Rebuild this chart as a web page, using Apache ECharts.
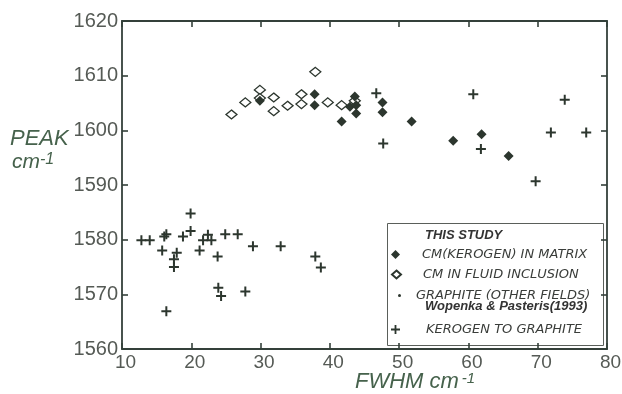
<!DOCTYPE html>
<html>
<head>
<meta charset="utf-8">
<script src="https://cdn.jsdelivr.net/npm/echarts@6/dist/echarts.min.js"></script>
<style>
  html, body { margin: 0; padding: 0; background: #fff; }
  #chart { width: 622px; height: 394px; }
</style>
</head>
<body>
<div id="chart"></div>
<script>
// FWHM (cm-1) , PEAK (cm-1)
const matrixPoints = [
  [29.9, 1605.4], [37.8, 1606.6], [37.8, 1604.6], [41.7, 1601.6], [42.9, 1604.3],
  [43.6, 1606.2], [43.8, 1604.6], [43.8, 1603.1], [47.6, 1605.1], [47.6, 1603.3],
  [51.8, 1601.6], [57.8, 1598.1], [61.9, 1599.3], [65.8, 1595.3]
];
const fluidPoints = [
  [25.8, 1602.9], [27.8, 1605.1], [29.9, 1607.4], [29.9, 1605.9], [31.9, 1606.0],
  [31.9, 1603.5], [33.9, 1604.5], [35.9, 1606.6], [35.9, 1604.8], [37.9, 1610.7],
  [39.7, 1605.1], [41.7, 1604.6], [43.6, 1605.4]
];
const graphitePoints = [];
const kerogenPoints = [
  [46.7, 1606.8], [47.7, 1597.6], [60.7, 1606.6], [61.8, 1596.6], [69.7, 1590.7],
  [71.9, 1599.6], [73.9, 1605.6], [77.0, 1599.6],
  [12.8, 1579.9], [14.0, 1579.9], [16.4, 1581.0], [16.1, 1580.6], [15.8, 1578.0],
  [17.9, 1577.6], [17.5, 1576.4], [17.5, 1575.0], [16.4, 1566.9], [19.9, 1584.8],
  [19.9, 1581.6], [18.8, 1580.6], [21.2, 1578.0], [21.7, 1579.9], [22.4, 1580.9],
  [22.9, 1579.9], [23.8, 1576.9], [23.9, 1571.2], [24.3, 1569.7], [24.9, 1581.0],
  [26.7, 1581.0], [27.8, 1570.5], [28.9, 1578.8], [32.9, 1578.8], [37.9, 1576.9],
  [38.7, 1574.9]
];
const xTicks = { min: 10, max: 80, interval: 10 };
const yTicks = { min: 1560, max: 1620, interval: 10 };

const names = {
  matrix: 'CM(KEROGEN) IN MATRIX',
  fluid: 'CM IN FLUID INCLUSION',
  graphite: 'GRAPHITE (OTHER FIELDS)',
  kerogen: 'KEROGEN TO GRAPHITE'
};

const ink = '#2c362e';
const frame = '#34403a';
const tickText = '#555a55';
const titleText = '#46624c';
const font = 'Liberation Sans, Arial, sans-serif';
const wideFont = 'DejaVu Sans, sans-serif';
const crossPath = 'path://M4,0 L6,0 L6,4 L10,4 L10,6 L6,6 L6,10 L4,10 L4,6 L0,6 L0,4 L4,4 Z';

const chart = echarts.init(document.getElementById('chart'));

function axisCommon(showLabel) {
  return {
    axisLine: { show: true, onZero: false, lineStyle: { color: frame, width: 1.8 } },
    axisTick: { show: true, inside: true, length: 6, lineStyle: { color: frame, width: 1.6 } },
    splitLine: { show: false },
    axisLabel: {
      show: showLabel, color: tickText, fontSize: 20, fontFamily: font, margin: 4,
      formatter: function (v) { return String(v); }
    }
  };
}

function legendItem(name, left, top, w, h, padLeft) {
  return {
    data: [name],
    orient: 'vertical',
    left: left,
    top: top,
    padding: 0,
    itemWidth: w,
    itemHeight: h,
    selectedMode: false,
    textStyle: {
      color: '#3a3d3a',
      fontSize: 13,
      fontStyle: 'italic',
      fontFamily: wideFont,
      padding: [0, 0, 0, padLeft]
    }
  };
}

const bottomX = axisCommon(true);
bottomX.axisLabel.fontSize = 19;
bottomX.axisLabel.padding = [0, 0, 0, 7];

const option = {
  animation: false,
  backgroundColor: '#fff',
  grid: { left: 122, right: 15, top: 21, bottom: 45, outerBoundsMode: 'none' },
  xAxis: [
    Object.assign(bottomX, {
      type: 'value', position: 'bottom',
      min: xTicks.min, max: xTicks.max, interval: xTicks.interval
    }),
    Object.assign(axisCommon(false), {
      type: 'value', position: 'top',
      min: xTicks.min, max: xTicks.max, interval: xTicks.interval
    })
  ],
  yAxis: [
    Object.assign(axisCommon(true), {
      type: 'value', position: 'left',
      min: yTicks.min, max: yTicks.max, interval: yTicks.interval
    }),
    Object.assign(axisCommon(false), {
      type: 'value', position: 'right',
      min: yTicks.min, max: yTicks.max, interval: yTicks.interval
    })
  ],
  legend: [
    legendItem(names.matrix, 391, 248, 9, 9, 17),
    legendItem(names.fluid, 391, 268, 9, 8, 17),
    legendItem(names.graphite, 398, 289, 3, 3, 10),
    legendItem(names.kerogen, 391, 323, 9, 9, 21)
  ],
  series: [
    {
      name: names.fluid,
      type: 'scatter',
      symbol: 'diamond',
      symbolSize: [11, 9],
      itemStyle: { color: '#fff', borderColor: ink, borderWidth: 1.3, opacity: 1 },
      data: fluidPoints,
      z: 2
    },
    {
      name: names.matrix,
      type: 'scatter',
      symbol: 'diamond',
      symbolSize: [10, 10],
      itemStyle: { color: ink, opacity: 1 },
      data: matrixPoints,
      z: 3
    },
    {
      name: names.graphite,
      type: 'scatter',
      symbol: 'circle',
      symbolSize: 3,
      itemStyle: { color: ink, opacity: 1 },
      data: graphitePoints,
      z: 3
    },
    {
      name: names.kerogen,
      type: 'scatter',
      symbol: crossPath,
      symbolSize: 10,
      itemStyle: { color: ink, opacity: 1 },
      data: kerogenPoints,
      z: 4
    }
  ],
  graphic: [
    // legend frame
    {
      type: 'rect', left: 387, top: 223, z: 0,
      shape: { width: 216, height: 122 },
      style: { fill: '#fff', stroke: '#5a5f5a', lineWidth: 1 }
    },
    {
      type: 'text', left: 425, top: 229,
      style: { text: 'THIS STUDY', fill: '#333', fontSize: 13, fontWeight: 'bold', fontStyle: 'italic', fontFamily: font }
    },
    {
      type: 'text', left: 425, top: 300,
      style: { text: 'Wopenka & Pasteris(1993)', fill: '#333', fontSize: 13, fontWeight: 'bold', fontStyle: 'italic', fontFamily: font }
    },
    // axis titles
    {
      type: 'text', left: 10, top: 128,
      style: { text: 'PEAK', fill: titleText, fontSize: 22, fontStyle: 'italic', fontFamily: font }
    },
    {
      type: 'text', left: 12, top: 152,
      style: {
        text: '{a|cm}{s|-1}',
        rich: {
          a: { fill: titleText, fontSize: 21, fontStyle: 'italic', fontFamily: font },
          s: { fill: titleText, fontSize: 16, fontStyle: 'italic', fontFamily: font, verticalAlign: 'top' }
        }
      }
    },
    {
      type: 'text', left: 355, top: 371,
      style: {
        text: '{a|FWHM cm}{s|-1}',
        rich: {
          a: { fill: titleText, fontSize: 22, fontStyle: 'italic', fontFamily: font },
          s: { fill: titleText, fontSize: 15, fontStyle: 'italic', fontFamily: font, verticalAlign: 'top', padding: [0, 0, 0, 3] }
        }
      }
    }
  ]
};

chart.setOption(option);
</script>
</body>
</html>
